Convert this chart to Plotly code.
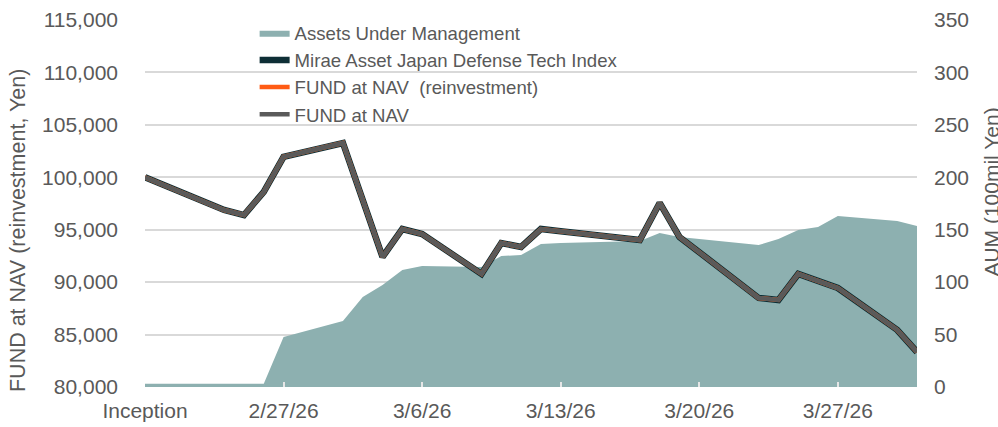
import plotly.graph_objects as go

dates = ["2026-02-20", "2026-02-24", "2026-02-25", "2026-02-26", "2026-02-27",
         "2026-03-02", "2026-03-03", "2026-03-04", "2026-03-05", "2026-03-06",
         "2026-03-09", "2026-03-10", "2026-03-11", "2026-03-12", "2026-03-13",
         "2026-03-16", "2026-03-17", "2026-03-18", "2026-03-19", "2026-03-23",
         "2026-03-24", "2026-03-25", "2026-03-26", "2026-03-27", "2026-03-30",
         "2026-03-31"]

aum = [3, 3, 3, 3, 47.7, 62.9, 85.8, 97.3, 111.6, 115.4, 114.4, 124.9, 125.9,
       136.4, 137.3, 138.3, 139.2, 146.9, 143.1, 135.4, 141.1, 149.7, 152.6,
       163.1, 158.3, 153.5]

index_vals = [100000, 96880, 96400, 98600, 101950, 103270, 97830, 92400, 95070,
              94590, 90780, 93730, 93350, 95070, 94860, 94230, 94020, 97550,
              94310, 88490, 88300, 90780, 90110, 89440, 85440, 83340]

nav_reinv = [100000, 96880, 96400, 98600, 101950, 103270, 97830, 92400, 95070,
             94590, 90780, 93730, 93350, 95070, 94860, 94230, 94020, 97550,
             94310, 88490, 88300, 90780, 90110, 89440, 85440, 83340]

nav = [100000, 96880, 96400, 98600, 101950, 103270, 97830, 92400, 95070,
       94590, 90780, 93730, 93350, 95070, 94860, 94230, 94020, 97550,
       94310, 88490, 88300, 90780, 90110, 89440, 85440, 83340]

x_tickvals = ["2026-02-20", "2026-02-27", "2026-03-06", "2026-03-13",
              "2026-03-20", "2026-03-27"]
x_ticktext = ["Inception", "2/27/26", "3/6/26", "3/13/26", "3/20/26", "3/27/26"]

FONT = "Liberation Sans, Arial, sans-serif"
TXT = "#595959"

fig = go.Figure()
fig.add_trace(go.Scatter(
    x=dates, y=aum, name="Assets Under Management", mode="lines",
    fill="tozeroy", fillcolor="#8db0b0", line=dict(width=0, color="#8db0b0"),
    yaxis="y", legendgroup="a"))
fig.add_trace(go.Scatter(
    x=dates, y=index_vals, name="Mirae Asset Japan Defense Tech Index",
    mode="lines", line=dict(color="#0e2f36", width=6.5), yaxis="y2",
    legendgroup="b"))
fig.add_trace(go.Scatter(
    x=dates, y=nav_reinv, name="FUND at NAV  (reinvestment)",
    mode="lines", line=dict(color="#ff5b14", width=4.5), yaxis="y2",
    legendgroup="c"))
fig.add_trace(go.Scatter(
    x=dates, y=nav, name="FUND at NAV",
    mode="lines", line=dict(color="#5a5a5a", width=4.5), yaxis="y2",
    legendgroup="d"))

fig.update_layout(
    width=998, height=427,
    margin=dict(l=145, r=81, t=20, b=40),
    paper_bgcolor="white", plot_bgcolor="white",
    font=dict(family=FONT, size=21, color=TXT),
    showlegend=True,
    legend=dict(x=0.142, y=1.016, xanchor="left", yanchor="top",
                bgcolor="rgba(0,0,0,0)", font=dict(size=18.6, color=TXT),
                traceorder="grouped", tracegroupgap=0),
    xaxis=dict(type="date", range=["2026-02-20", "2026-03-31"],
               tickvals=x_tickvals, ticktext=x_ticktext,
               ticks="inside", ticklen=5, tickcolor="#e6e6e6", tickwidth=1.5,
               showgrid=False, zeroline=False, showline=False,
               automargin=False, ticklabelstandoff=9,
               tickfont=dict(size=21, color=TXT)),
    yaxis=dict(side="right", range=[0, 350], dtick=50, showgrid=False,
               zeroline=False, showline=False, automargin=False,
               ticklabelstandoff=16, tickfont=dict(size=21, color=TXT)),
    yaxis2=dict(side="left", overlaying="y", range=[80000, 115000], dtick=5000,
                tickformat=",", showgrid=True, gridcolor="#d9d9d9", gridwidth=1.5,
                zeroline=False, showline=False, automargin=False,
                ticklabelstandoff=26, tickfont=dict(size=21, color=TXT)),
    annotations=[
        dict(text="FUND at NAV (reinvestment, Yen)", xref="paper", yref="paper",
             x=-0.1645, y=0.425, xanchor="center", yanchor="middle",
             textangle=-90, showarrow=False, font=dict(size=21.5, color=TXT)),
        dict(text="AUM (100mil Yen)", xref="paper", yref="paper",
             x=1.096, y=0.53, xanchor="center", yanchor="middle",
             textangle=-90, showarrow=False, font=dict(size=21, color=TXT)),
    ],
)

fig.write_html("out.html")
